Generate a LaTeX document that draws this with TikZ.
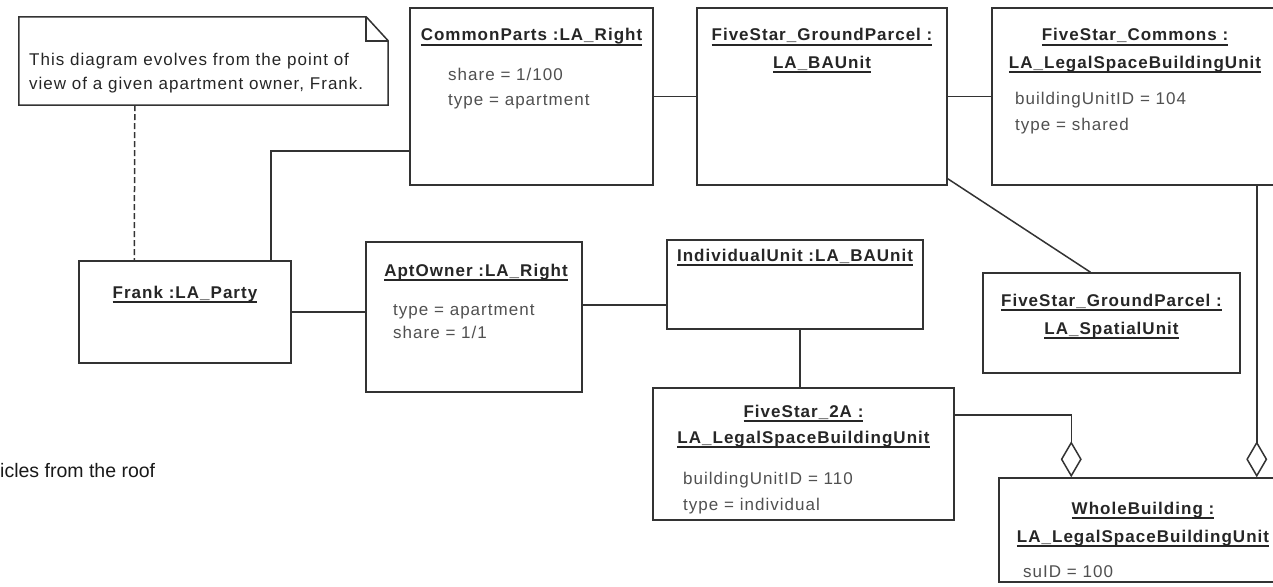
\documentclass[tikz,border=0pt]{standalone}
\usepackage{fontspec}
\setmainfont{Liberation Sans}
\newfontfamily\umlfont[LetterSpace=6]{Liberation Sans}
\usetikzlibrary{arrows.meta}
\definecolor{linec}{HTML}{333333}
\definecolor{titlec}{HTML}{262626}
\definecolor{attrc}{HTML}{505050}
\newcommand\umlsize{\fontsize{17}{20}\selectfont}
\newcommand\myul[1]{\setbox0\hbox{#1}\rlap{\usebox0}\rule[-5pt]{\wd0}{1.6pt}}
\begin{document}
\begin{tikzpicture}[x=1pt,y=-1pt,
  umlbox/.style={draw=linec, line width=1.5pt, inner sep=0pt, rectangle, fill=white},
  ttl/.style={anchor=base, inner sep=0pt, font=\umlfont\umlsize\bfseries, text=titlec},
  attr/.style={anchor=base west, inner sep=0pt, font=\umlfont\umlsize, text=attrc},
  notetxt/.style={anchor=base west, inner sep=0pt, font=\umlfont\umlsize, text=titlec},
  conn/.style={draw=linec, line width=1.5pt},
  agg/.style={conn, -{Diamond[open, length=36pt, width=21pt, line width=1.5pt]}}]
\useasboundingbox (0,0) rectangle (1273,586);
\fill[white] (0,0) rectangle (1273,586);

% boxes
\node[minimum width=369pt, minimum height=88pt, inner sep=0pt] (note) at (203.5,61) {};
\node[umlbox, minimum width=243pt, minimum height=177pt] (cp) at (531.5,96.5) {};
\node[umlbox, minimum width=250pt, minimum height=177pt] (gp) at (822,96.5) {};
\node[umlbox, minimum width=286pt, minimum height=177pt] (cm) at (1135,96.5) {};
\node[umlbox, minimum width=212pt, minimum height=102pt] (frank) at (185,312) {};
\node[umlbox, minimum width=216pt, minimum height=150pt] (apt) at (474,317) {};
\node[umlbox, minimum width=256pt, minimum height=89pt] (iu) at (795,284.5) {};
\node[umlbox, minimum width=257pt, minimum height=100pt] (su) at (1111.5,323) {};
\node[umlbox, minimum width=301pt, minimum height=132pt] (a2) at (803.5,454) {};
\node[umlbox, minimum width=288pt, minimum height=104pt] (wb) at (1143,530) {};

% note outline
\draw[conn, fill=white] (note.north west) -- ([xshift=-22pt]note.north east)
  -- ([yshift=-24pt]note.north east) -- (note.south east) -- (note.south west) -- cycle;
\draw[conn] ([xshift=-22pt]note.north east) |- ([yshift=-24pt]note.north east);
\node[notetxt] (nt1) at (29,65) {This diagram evolves from the point of};
\node[notetxt] (nt2) at (29,89) {view of a given apartment owner, Frank.};

% titles and attributes
\node[ttl] (cpt) at (531.5,41) {\myul{CommonParts :LA\_Right}};
\node[attr] (cpa1) at (448,81) {share = 1/100};
\node[attr] (cpa2) at (448,105) {type = apartment};

\node[ttl] (gpt1) at (822,41) {\myul{FiveStar\_GroundParcel :}};
\node[ttl] (gpt2) at (822,68) {\myul{LA\_BAUnit}};

\node[ttl] (cmt1) at (1135,41) {\myul{FiveStar\_Commons :}};
\node[ttl] (cmt2) at (1135,68) {\myul{LA\_LegalSpaceBuildingUnit}};
\node[attr] (cma1) at (1015,104) {buildingUnitID = 104};
\node[attr] (cma2) at (1015,130) {type = shared};

\node[ttl] (frt) at (185,298) {\myul{Frank :LA\_Party}};

\node[ttl] (apt1) at (476,276) {\myul{AptOwner :LA\_Right}};
\node[attr] (apa1) at (393,315) {type = apartment};
\node[attr] (apa2) at (393,338) {share = 1/1};

\node[ttl] (iut) at (795,261) {\myul{IndividualUnit :LA\_BAUnit}};

\node[ttl] (sut1) at (1111.5,306) {\myul{FiveStar\_GroundParcel :}};
\node[ttl] (sut2) at (1111.5,334) {\myul{LA\_SpatialUnit}};

\node[ttl] (a2t1) at (803.5,417) {\myul{FiveStar\_2A :}};
\node[ttl] (a2t2) at (803.5,443) {\myul{LA\_LegalSpaceBuildingUnit}};
\node[attr] (a2a1) at (683,484) {buildingUnitID = 110};
\node[attr] (a2a2) at (683,510) {type = individual};

\node[ttl] (wbt1) at (1143,514) {\myul{WholeBuilding :}};
\node[ttl] (wbt2) at (1143,542) {\myul{LA\_LegalSpaceBuildingUnit}};
\node[attr] (wba1) at (1023,577) {suID = 100};

\node[anchor=base west, inner sep=0pt, font=\fontsize{19.5}{22}\selectfont, text=black!90] (cut) at (0,477) {icles from the roof};

% connectors
\draw[conn, dash pattern=on 6pt off 3pt] ([xshift=116pt]note.south west) -- ([xshift=56pt]frank.north west);
\draw[conn] ([xshift=-21pt]frank.north east) |- ([yshift=35pt]cp.south west);
\draw[conn] (frank.east) -- (frank.east -| apt.west);
\draw[conn] ([yshift=12pt]apt.east) -- ([yshift=12pt]apt.east -| iu.west);
\draw[conn] (cp.east) -- (gp.west);
\draw[conn] (gp.east) -- (cm.west);
\draw[conn] ([yshift=7pt]gp.south east) -- ([xshift=-21pt]su.north);
\draw[conn] ([xshift=5pt]iu.south) -- ([xshift=5pt]iu.south |- a2.north);
\draw[agg] ([yshift=39pt]a2.east) -| ([xshift=73pt]wb.north west);
\draw[agg] ([xshift=-22pt]cm.south east) -- ([xshift=-22pt]cm.south east |- wb.north);
\end{tikzpicture}
\end{document}
